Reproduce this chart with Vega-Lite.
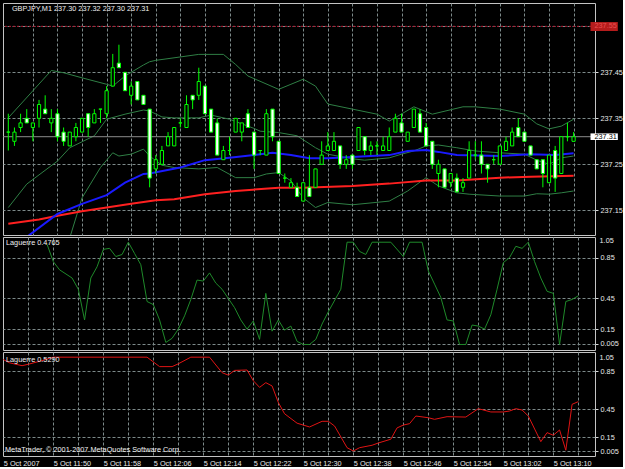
{
  "$schema": "https://vega.github.io/schema/vega-lite/v6.json",
  "background": "#000000",
  "padding": {"left": 2, "top": 2, "right": 0, "bottom": 0},
  "spacing": 2,
  "bounds": "flush",
  "config": {
    "view": {"stroke": "#c4c4c4", "strokeWidth": 1},
    "font": "Liberation Sans",
    "axis": {"labelFont": "Liberation Sans", "labelFontSize": 7.3, "labelColor": "#e8e8e8", "domain": false, "title": null, "gridColor": "#7d8a8a", "gridDash": [3, 2], "gridWidth": 1, "labelOverlap": false, "labelBound": false, "labelFlush": false, "tickCount": 100},
    "text": {"font": "Liberation Sans", "fontSize": 7.3, "color": "#e8e8e8", "align": "left", "baseline": "middle"}
  },
  "datasets": {
    "one": [{}],
    "candles": [
      {"t":0,"o":237.32,"h":237.36,"l":237.28,"c":237.32},
      {"t":1,"o":237.30,"h":237.33,"l":237.29,"c":237.32},
      {"t":2,"o":237.33,"h":237.36,"l":237.32,"c":237.34},
      {"t":3,"o":237.35,"h":237.37,"l":237.34,"c":237.34},
      {"t":4,"o":237.33,"h":237.34,"l":237.30,"c":237.34},
      {"t":5,"o":237.35,"h":237.39,"l":237.33,"c":237.38},
      {"t":6,"o":237.37,"h":237.40,"l":237.36,"c":237.36},
      {"t":7,"o":237.34,"h":237.37,"l":237.32,"c":237.35},
      {"t":8,"o":237.36,"h":237.37,"l":237.30,"c":237.31},
      {"t":9,"o":237.32,"h":237.33,"l":237.29,"c":237.30},
      {"t":10,"o":237.29,"h":237.32,"l":237.29,"c":237.32},
      {"t":11,"o":237.31,"h":237.34,"l":237.30,"c":237.33},
      {"t":12,"o":237.32,"h":237.35,"l":237.32,"c":237.35},
      {"t":13,"o":237.36,"h":237.36,"l":237.31,"c":237.33},
      {"t":14,"o":237.34,"h":237.37,"l":237.34,"c":237.36},
      {"t":15,"o":237.37,"h":237.37,"l":237.34,"c":237.37},
      {"t":16,"o":237.36,"h":237.42,"l":237.35,"c":237.41},
      {"t":17,"o":237.42,"h":237.49,"l":237.42,"c":237.46},
      {"t":18,"o":237.47,"h":237.51,"l":237.46,"c":237.46},
      {"t":19,"o":237.45,"h":237.45,"l":237.41,"c":237.41},
      {"t":20,"o":237.40,"h":237.43,"l":237.38,"c":237.42},
      {"t":21,"o":237.43,"h":237.43,"l":237.39,"c":237.39},
      {"t":22,"o":237.40,"h":237.40,"l":237.38,"c":237.38},
      {"t":23,"o":237.37,"h":237.37,"l":237.20,"c":237.22},
      {"t":24,"o":237.24,"h":237.27,"l":237.23,"c":237.26},
      {"t":25,"o":237.25,"h":237.29,"l":237.25,"c":237.28},
      {"t":26,"o":237.29,"h":237.32,"l":237.29,"c":237.31},
      {"t":27,"o":237.29,"h":237.33,"l":237.29,"c":237.33},
      {"t":28,"o":237.34,"h":237.35,"l":237.33,"c":237.34},
      {"t":29,"o":237.33,"h":237.40,"l":237.33,"c":237.38},
      {"t":30,"o":237.40,"h":237.40,"l":237.37,"c":237.39},
      {"t":31,"o":237.40,"h":237.46,"l":237.39,"c":237.43},
      {"t":32,"o":237.42,"h":237.42,"l":237.36,"c":237.36},
      {"t":33,"o":237.37,"h":237.37,"l":237.32,"c":237.32},
      {"t":34,"o":237.34,"h":237.35,"l":237.27,"c":237.27},
      {"t":35,"o":237.26,"h":237.29,"l":237.26,"c":237.28},
      {"t":36,"o":237.28,"h":237.31,"l":237.27,"c":237.28},
      {"t":37,"o":237.32,"h":237.35,"l":237.32,"c":237.35},
      {"t":38,"o":237.32,"h":237.34,"l":237.30,"c":237.34},
      {"t":39,"o":237.36,"h":237.37,"l":237.33,"c":237.33},
      {"t":40,"o":237.32,"h":237.32,"l":237.24,"c":237.27},
      {"t":41,"o":237.28,"h":237.28,"l":237.27,"c":237.28},
      {"t":42,"o":237.27,"h":237.37,"l":237.27,"c":237.36},
      {"t":43,"o":237.37,"h":237.37,"l":237.30,"c":237.31},
      {"t":44,"o":237.30,"h":237.30,"l":237.23,"c":237.23},
      {"t":45,"o":237.22,"h":237.23,"l":237.21,"c":237.22},
      {"t":46,"o":237.20,"h":237.22,"l":237.20,"c":237.21},
      {"t":47,"o":237.20,"h":237.21,"l":237.18,"c":237.18},
      {"t":48,"o":237.17,"h":237.21,"l":237.17,"c":237.21},
      {"t":49,"o":237.20,"h":237.27,"l":237.18,"c":237.18},
      {"t":50,"o":237.20,"h":237.24,"l":237.20,"c":237.24},
      {"t":51,"o":237.25,"h":237.30,"l":237.25,"c":237.27},
      {"t":52,"o":237.28,"h":237.32,"l":237.28,"c":237.29},
      {"t":53,"o":237.28,"h":237.32,"l":237.28,"c":237.30},
      {"t":54,"o":237.29,"h":237.29,"l":237.24,"c":237.25},
      {"t":55,"o":237.25,"h":237.27,"l":237.24,"c":237.26},
      {"t":56,"o":237.27,"h":237.27,"l":237.24,"c":237.25},
      {"t":57,"o":237.28,"h":237.33,"l":237.28,"c":237.33},
      {"t":58,"o":237.31,"h":237.31,"l":237.27,"c":237.28},
      {"t":59,"o":237.28,"h":237.30,"l":237.27,"c":237.29},
      {"t":60,"o":237.29,"h":237.30,"l":237.27,"c":237.29},
      {"t":61,"o":237.28,"h":237.31,"l":237.28,"c":237.29},
      {"t":62,"o":237.28,"h":237.33,"l":237.28,"c":237.31},
      {"t":63,"o":237.32,"h":237.36,"l":237.32,"c":237.35},
      {"t":64,"o":237.34,"h":237.36,"l":237.32,"c":237.32},
      {"t":65,"o":237.30,"h":237.32,"l":237.30,"c":237.32},
      {"t":66,"o":237.33,"h":237.37,"l":237.33,"c":237.37},
      {"t":67,"o":237.36,"h":237.37,"l":237.32,"c":237.32},
      {"t":68,"o":237.33,"h":237.34,"l":237.29,"c":237.29},
      {"t":69,"o":237.30,"h":237.30,"l":237.24,"c":237.25},
      {"t":70,"o":237.23,"h":237.26,"l":237.20,"c":237.25},
      {"t":71,"o":237.24,"h":237.24,"l":237.20,"c":237.20},
      {"t":72,"o":237.21,"h":237.23,"l":237.20,"c":237.23},
      {"t":73,"o":237.22,"h":237.23,"l":237.19,"c":237.19},
      {"t":74,"o":237.20,"h":237.22,"l":237.19,"c":237.21},
      {"t":75,"o":237.22,"h":237.30,"l":237.22,"c":237.28},
      {"t":76,"o":237.27,"h":237.30,"l":237.26,"c":237.27},
      {"t":77,"o":237.27,"h":237.30,"l":237.23,"c":237.25},
      {"t":78,"o":237.25,"h":237.25,"l":237.21,"c":237.24},
      {"t":79,"o":237.26,"h":237.27,"l":237.25,"c":237.26},
      {"t":80,"o":237.25,"h":237.29,"l":237.25,"c":237.29},
      {"t":81,"o":237.28,"h":237.31,"l":237.28,"c":237.30},
      {"t":82,"o":237.29,"h":237.33,"l":237.29,"c":237.32},
      {"t":83,"o":237.33,"h":237.35,"l":237.31,"c":237.31},
      {"t":84,"o":237.32,"h":237.32,"l":237.30,"c":237.30},
      {"t":85,"o":237.29,"h":237.29,"l":237.27,"c":237.27},
      {"t":86,"o":237.26,"h":237.26,"l":237.24,"c":237.24},
      {"t":87,"o":237.26,"h":237.26,"l":237.20,"c":237.23},
      {"t":88,"o":237.21,"h":237.27,"l":237.21,"c":237.27},
      {"t":89,"o":237.28,"h":237.29,"l":237.19,"c":237.22},
      {"t":90,"o":237.23,"h":237.31,"l":237.23,"c":237.31},
      {"t":91,"o":237.31,"h":237.34,"l":237.30,"c":237.31},
      {"t":92,"o":237.30,"h":237.32,"l":237.30,"c":237.31}
    ],
    "bands": [
      {"s":"upper","t":0,"v":237.351},{"s":"upper","t":7,"v":237.454},{"s":"upper","t":9,"v":237.449},{"s":"upper","t":12,"v":237.438},{"s":"upper","t":16,"v":237.424},{"s":"upper","t":17,"v":237.42},{"s":"upper","t":19,"v":237.442},{"s":"upper","t":22,"v":237.466},{"s":"upper","t":23,"v":237.473},{"s":"upper","t":24,"v":237.476},{"s":"upper","t":31,"v":237.489},{"s":"upper","t":35,"v":237.489},{"s":"upper","t":37,"v":237.467},{"s":"upper","t":39,"v":237.442},{"s":"upper","t":44,"v":237.413},{"s":"upper","t":46,"v":237.424},{"s":"upper","t":48,"v":237.435},{"s":"upper","t":50,"v":237.42},{"s":"upper","t":52,"v":237.381},{"s":"upper","t":56,"v":237.37},{"s":"upper","t":60,"v":237.359},{"s":"upper","t":62,"v":237.344},{"s":"upper","t":66,"v":237.375},{"s":"upper","t":69,"v":237.359},{"s":"upper","t":74,"v":237.375},{"s":"upper","t":76,"v":237.375},{"s":"upper","t":80,"v":237.37},{"s":"upper","t":84,"v":237.359},{"s":"upper","t":86,"v":237.338},{"s":"upper","t":88,"v":237.327},{"s":"upper","t":90,"v":237.333},{"s":"upper","t":92,"v":237.348},
      {"s":"mid","t":0,"v":237.156},{"s":"mid","t":3,"v":237.207},{"s":"mid","t":8,"v":237.257},{"s":"mid","t":10,"v":237.286},{"s":"mid","t":14,"v":237.312},{"s":"mid","t":16,"v":237.348},{"s":"mid","t":19,"v":237.359},{"s":"mid","t":22,"v":237.368},{"s":"mid","t":23,"v":237.366},{"s":"mid","t":25,"v":237.353},{"s":"mid","t":27,"v":237.351},{"s":"mid","t":31,"v":237.351},{"s":"mid","t":33,"v":237.357},{"s":"mid","t":36,"v":237.348},{"s":"mid","t":40,"v":237.328},{"s":"mid","t":41,"v":237.322},{"s":"mid","t":44,"v":237.319},{"s":"mid","t":47,"v":237.312},{"s":"mid","t":50,"v":237.286},{"s":"mid","t":52,"v":237.272},{"s":"mid","t":56,"v":237.262},{"s":"mid","t":58,"v":237.259},{"s":"mid","t":62,"v":237.264},{"s":"mid","t":64,"v":237.272},{"s":"mid","t":66,"v":237.279},{"s":"mid","t":68,"v":237.29},{"s":"mid","t":70,"v":237.292},{"s":"mid","t":73,"v":237.286},{"s":"mid","t":76,"v":237.279},{"s":"mid","t":80,"v":237.275},{"s":"mid","t":84,"v":237.272},{"s":"mid","t":86,"v":237.259},{"s":"mid","t":88,"v":237.25},{"s":"mid","t":90,"v":237.264},{"s":"mid","t":92,"v":237.268},
      {"s":"lower","t":10,"v":237.09},{"s":"lower","t":12,"v":237.177},{"s":"lower","t":15,"v":237.243},{"s":"lower","t":17,"v":237.275},{"s":"lower","t":18,"v":237.268},{"s":"lower","t":20,"v":237.272},{"s":"lower","t":22,"v":237.283},{"s":"lower","t":23,"v":237.268},{"s":"lower","t":25,"v":237.248},{"s":"lower","t":27,"v":237.243},{"s":"lower","t":31,"v":237.24},{"s":"lower","t":34,"v":237.243},{"s":"lower","t":37,"v":237.221},{"s":"lower","t":40,"v":237.221},{"s":"lower","t":42,"v":237.229},{"s":"lower","t":44,"v":237.232},{"s":"lower","t":46,"v":237.214},{"s":"lower","t":48,"v":237.177},{"s":"lower","t":50,"v":237.156},{"s":"lower","t":52,"v":237.167},{"s":"lower","t":56,"v":237.162},{"s":"lower","t":62,"v":237.17},{"s":"lower","t":65,"v":237.192},{"s":"lower","t":68,"v":237.221},{"s":"lower","t":70,"v":237.203},{"s":"lower","t":73,"v":237.188},{"s":"lower","t":75,"v":237.185},{"s":"lower","t":80,"v":237.181},{"s":"lower","t":84,"v":237.181},{"s":"lower","t":86,"v":237.186},{"s":"lower","t":88,"v":237.185},{"s":"lower","t":90,"v":237.188},{"s":"lower","t":92,"v":237.192}
    ],
    "mas": [
      {"s":"red","t":0,"v":237.121},{"s":"red","t":5,"v":237.13},{"s":"red","t":8,"v":237.138},{"s":"red","t":12,"v":237.148},{"s":"red","t":16,"v":237.156},{"s":"red","t":20,"v":237.164},{"s":"red","t":24,"v":237.172},{"s":"red","t":27,"v":237.174},{"s":"red","t":32,"v":237.185},{"s":"red","t":37,"v":237.192},{"s":"red","t":44,"v":237.199},{"s":"red","t":48,"v":237.199},{"s":"red","t":56,"v":237.203},{"s":"red","t":62,"v":237.208},{"s":"red","t":68,"v":237.215},{"s":"red","t":73,"v":237.215},{"s":"red","t":80,"v":237.221},{"s":"red","t":85,"v":237.223},{"s":"red","t":92,"v":237.225},
      {"s":"blue","t":3,"v":237.092},{"s":"blue","t":8,"v":237.142},{"s":"blue","t":12,"v":237.164},{"s":"blue","t":16,"v":237.183},{"s":"blue","t":19,"v":237.21},{"s":"blue","t":22,"v":237.229},{"s":"blue","t":23,"v":237.23},{"s":"blue","t":28,"v":237.243},{"s":"blue","t":32,"v":237.259},{"s":"blue","t":36,"v":237.264},{"s":"blue","t":40,"v":237.27},{"s":"blue","t":43,"v":237.275},{"s":"blue","t":46,"v":237.27},{"s":"blue","t":49,"v":237.263},{"s":"blue","t":52,"v":237.263},{"s":"blue","t":56,"v":237.266},{"s":"blue","t":62,"v":237.27},{"s":"blue","t":65,"v":237.279},{"s":"blue","t":68,"v":237.281},{"s":"blue","t":70,"v":237.277},{"s":"blue","t":73,"v":237.27},{"s":"blue","t":80,"v":237.268},{"s":"blue","t":85,"v":237.272},{"s":"blue","t":89,"v":237.27},{"s":"blue","t":92,"v":237.274}
    ],
    "lag1": [
      {"t":7,"v":0.98},{"t":8,"v":0.81},{"t":9,"v":0.73},{"t":11,"v":0.65},{"t":12,"v":0.54},{"t":13,"v":0.24},{"t":14,"v":0.65},{"t":15,"v":0.76},{"t":16,"v":0.93},{"t":17,"v":0.94},{"t":18,"v":0.86},{"t":19,"v":0.88},{"t":20,"v":1.0},{"t":21,"v":0.89},{"t":22,"v":0.78},{"t":23,"v":0.42},{"t":24,"v":0.39},{"t":25,"v":0.24},{"t":26,"v":0.02},{"t":27,"v":0.06},{"t":28,"v":0.15},{"t":29,"v":0.28},{"t":30,"v":0.44},{"t":31,"v":0.63},{"t":32,"v":0.62},{"t":33,"v":0.7},{"t":34,"v":0.6},{"t":35,"v":0.54},{"t":36,"v":0.45},{"t":37,"v":0.36},{"t":38,"v":0.24},{"t":39,"v":0.15},{"t":40,"v":0.23},{"t":41,"v":0.05},{"t":42,"v":0.5},{"t":43,"v":0.13},{"t":44,"v":0.24},{"t":45,"v":0.14},{"t":46,"v":0.18},{"t":47,"v":0.03},{"t":48,"v":0.0},{"t":49,"v":0.0},{"t":50,"v":0.05},{"t":51,"v":0.2},{"t":52,"v":0.32},{"t":54,"v":0.54},{"t":55,"v":1.0},{"t":56,"v":1.0},{"t":57,"v":0.91},{"t":58,"v":0.88},{"t":59,"v":1.0},{"t":62,"v":1.0},{"t":64,"v":0.86},{"t":65,"v":1.0},{"t":67,"v":1.0},{"t":68,"v":0.72},{"t":69,"v":0.59},{"t":70,"v":0.46},{"t":71,"v":0.24},{"t":72,"v":0.23},{"t":73,"v":0.0},{"t":74,"v":0.0},{"t":75,"v":0.19},{"t":76,"v":0.18},{"t":77,"v":0.15},{"t":78,"v":0.29},{"t":79,"v":0.54},{"t":80,"v":0.8},{"t":81,"v":0.85},{"t":82,"v":0.96},{"t":83,"v":0.94},{"t":84,"v":1.0},{"t":85,"v":0.81},{"t":86,"v":0.65},{"t":87,"v":0.52},{"t":88,"v":0.5},{"t":89,"v":0.0},{"t":90,"v":0.42},{"t":91,"v":0.44},{"t":92,"v":0.4765}
    ],
    "lag2": [
      {"t":0,"v":0.975},{"t":1,"v":0.94},{"t":3,"v":0.91},{"t":4,"v":0.925},{"t":6,"v":0.96},{"t":8,"v":1.0},{"t":23,"v":1.0},{"t":25,"v":0.9},{"t":27,"v":0.9},{"t":28,"v":0.93},{"t":30,"v":1.0},{"t":33,"v":1.0},{"t":35,"v":0.836},{"t":36,"v":0.81},{"t":37,"v":0.86},{"t":39,"v":0.864},{"t":40,"v":0.75},{"t":41,"v":0.68},{"t":42,"v":0.73},{"t":43,"v":0.695},{"t":44,"v":0.52},{"t":45,"v":0.4},{"t":47,"v":0.3},{"t":49,"v":0.26},{"t":51,"v":0.32},{"t":52,"v":0.32},{"t":53,"v":0.27},{"t":55,"v":0.04},{"t":56,"v":0.005},{"t":57,"v":0.04},{"t":59,"v":0.066},{"t":60,"v":0.09},{"t":62,"v":0.13},{"t":63,"v":0.25},{"t":64,"v":0.28},{"t":65,"v":0.295},{"t":66,"v":0.376},{"t":68,"v":0.358},{"t":69,"v":0.341},{"t":71,"v":0.369},{"t":74,"v":0.365},{"t":76,"v":0.454},{"t":78,"v":0.419},{"t":80,"v":0.419},{"t":81,"v":0.429},{"t":82,"v":0.454},{"t":83,"v":0.44},{"t":84,"v":0.376},{"t":86,"v":0.104},{"t":87,"v":0.2},{"t":88,"v":0.172},{"t":89,"v":0.228},{"t":90,"v":0.013},{"t":91,"v":0.5},{"t":92,"v":0.529}
    ]
  },
  "vconcat": [
    {
      "width": 592,
      "height": 232,
      "layer": [
        {
          "data": {"name": "bands"},
          "mark": {"type": "line", "color": "#2f7f45", "strokeWidth": 1, "clip": true},
          "encoding": {
            "x": {"field": "t", "type": "quantitative", "scale": {"domain": [-0.05, 94.67], "nice": false, "zero": false},
                  "axis": {"values": [4,8,12,16,20,24,28,32,36,40,44,48,52,56,60,64,68,72,76,80,84,88,92], "tickCount": 100, "labels": false, "ticks": false, "grid": true, "minExtent": 0, "maxExtent": 0}},
            "y": {"field": "v", "type": "quantitative", "scale": {"domain": [237.0963, 237.6007], "nice": false, "zero": false},
                  "axis": {"orient": "right", "values": [237.15, 237.25, 237.35, 237.45, 237.55], "tickCount": 100, "labelExpr": "datum.value > 237.5 ? '' : format(datum.value, '.2f')", "tickSize": 3, "tickColor": "#d8d8d8", "labelPadding": 2, "grid": true, "labelOverlap": false}},
            "detail": {"field": "s", "type": "nominal"}
          }
        },
        {
          "data": {"name": "mas"},
          "transform": [{"filter": "datum.s == 'red'"}],
          "mark": {"type": "line", "color": "#ff2020", "strokeWidth": 2, "clip": true},
          "encoding": {"x": {"field": "t", "type": "quantitative"}, "y": {"field": "v", "type": "quantitative"}}
        },
        {
          "data": {"name": "mas"},
          "transform": [{"filter": "datum.s == 'blue'"}],
          "mark": {"type": "line", "color": "#1a1aff", "strokeWidth": 2, "clip": true},
          "encoding": {"x": {"field": "t", "type": "quantitative"}, "y": {"field": "v", "type": "quantitative"}}
        },
        {
          "data": {"name": "one"},
          "mark": {"type": "rule", "color": "#8c8c8c", "strokeWidth": 1},
          "encoding": {"y": {"datum": 237.31}}
        },
        {
          "data": {"name": "one"},
          "mark": {"type": "rule", "color": "#b0102a", "strokeWidth": 1, "strokeDash": [2, 2]},
          "encoding": {"y": {"datum": 237.55}}
        },
        {
          "data": {"name": "candles"},
          "mark": {"type": "rule", "color": "#00ff00", "strokeWidth": 1, "clip": true},
          "encoding": {"x": {"field": "t", "type": "quantitative"}, "y": {"field": "l", "type": "quantitative"}, "y2": {"field": "h"}}
        },
        {
          "data": {"name": "candles"},
          "mark": {"type": "bar", "size": 3.2, "stroke": "#00ff00", "strokeWidth": 1, "clip": true},
          "encoding": {
            "x": {"field": "t", "type": "quantitative"},
            "y": {"field": "o", "type": "quantitative"},
            "y2": {"field": "c"},
            "fill": {"condition": {"test": "datum.c > datum.o", "value": "#000000"}, "value": "#ffffff"}
          }
        },
        {
          "data": {"name": "one"},
          "mark": {"type": "rect", "fill": "#b51c1c", "clip": false},
          "encoding": {"x": {"datum": 94.75}, "x2": {"datum": 99.2}, "y": {"datum": 237.5593}, "y2": {"datum": 237.5398}}
        },
        {
          "data": {"name": "one"},
          "mark": {"type": "text", "color": "#e85050", "clip": false},
          "encoding": {"x": {"datum": 95.4}, "y": {"datum": 237.5497}, "text": {"value": "237.55"}}
        },
        {
          "data": {"name": "one"},
          "mark": {"type": "rect", "fill": "#ffffff", "clip": false},
          "encoding": {"x": {"datum": 94.75}, "x2": {"datum": 99.2}, "y": {"datum": 237.3172}, "y2": {"datum": 237.3028}}
        },
        {
          "data": {"name": "one"},
          "mark": {"type": "text", "color": "#000000", "clip": false},
          "encoding": {"x": {"datum": 95.4}, "y": {"datum": 237.31}, "text": {"value": "237.31"}}
        },
        {
          "data": {"name": "one"},
          "mark": {"type": "text", "color": "#f0f0f0"},
          "encoding": {"x": {"datum": 0.59}, "y": {"datum": 237.5877}, "text": {"value": "GBPJPY,M1  237.30 237.32 237.30 237.31"}}
        }
      ]
    },
    {
      "width": 592,
      "height": 113,
      "layer": [
        {
          "data": {"name": "lag1"},
          "mark": {"type": "line", "color": "#1f8a2a", "strokeWidth": 1, "clip": true},
          "encoding": {
            "x": {"field": "t", "type": "quantitative", "scale": {"domain": [-0.05, 94.67], "nice": false, "zero": false},
                  "axis": {"values": [4,8,12,16,20,24,28,32,36,40,44,48,52,56,60,64,68,72,76,80,84,88,92], "tickCount": 100, "labels": false, "ticks": false, "grid": true, "minExtent": 0, "maxExtent": 0}},
            "y": {"field": "v", "type": "quantitative", "scale": {"domain": [-0.054, 1.051], "nice": false, "zero": false},
                  "axis": {"orient": "right", "values": [0.85, 0.45, 0.15, 0.005], "tickCount": 100, "labelExpr": "datum.value == 0.005 ? '0.005' : format(datum.value, '.2f')", "tickSize": 3, "tickColor": "#d8d8d8", "labelPadding": 2, "grid": true, "labelOverlap": false}}
          }
        },
        {
          "data": {"name": "one"},
          "mark": {"type": "text", "clip": false},
          "encoding": {"x": {"datum": 95.4}, "y": {"datum": 1.012}, "text": {"value": "1.05"}}
        },
        {
          "data": {"name": "one"},
          "mark": {"type": "text", "color": "#f0f0f0"},
          "encoding": {"x": {"datum": 0.43}, "y": {"datum": 0.997}, "text": {"value": "Laguerre 0.4765"}}
        }
      ]
    },
    {
      "width": 592,
      "height": 104,
      "layer": [
        {
          "data": {"name": "lag2"},
          "mark": {"type": "line", "color": "#e01414", "strokeWidth": 1, "clip": true},
          "encoding": {
            "x": {"field": "t", "type": "quantitative", "scale": {"domain": [-0.05, 94.67], "nice": false, "zero": false},
                  "axis": {"values": [0,4,8,12,16,20,24,28,32,36,40,44,48,52,56,60,64,68,72,76,80,84,88,92], "tickCount": 100, "ticks": false, "tickSize": 0, "grid": true, "labelAlign": "left", "labelBaseline": "top", "labelPadding": 3, "labelOverlap": false,
                           "gridOpacity": {"condition": {"test": "datum.value == 0", "value": 0}, "value": 1},
                           "labelExpr": "datum.value % 8 != 0 ? '' : (datum.value == 0 ? '5 Oct 2007' : '5 Oct ' + floor((702 + datum.value) / 60) + ':' + ((702 + datum.value) % 60 < 10 ? '0' : '') + ((702 + datum.value) % 60))"}},
            "y": {"field": "v", "type": "quantitative", "scale": {"domain": [-0.048, 1.055], "nice": false, "zero": false},
                  "axis": {"orient": "right", "values": [0.85, 0.45, 0.15, 0.005], "tickCount": 100, "labelExpr": "datum.value == 0.005 ? '0.005' : format(datum.value, '.2f')", "tickSize": 3, "tickColor": "#d8d8d8", "labelPadding": 2, "grid": true, "labelOverlap": false}}
          }
        },
        {
          "data": {"name": "one"},
          "mark": {"type": "text", "clip": false},
          "encoding": {"x": {"datum": 95.4}, "y": {"datum": 0.991}, "text": {"value": "1.05"}}
        },
        {
          "data": {"name": "one"},
          "mark": {"type": "text", "color": "#f0f0f0"},
          "encoding": {"x": {"datum": 0.43}, "y": {"datum": 0.97}, "text": {"value": "Laguerre 0.5290"}}
        },
        {
          "data": {"name": "one"},
          "mark": {"type": "text", "color": "#f0f0f0"},
          "encoding": {"x": {"datum": 0.27}, "y": {"datum": 0.016}, "text": {"value": "MetaTrader, © 2001-2007 MetaQuotes Software Corp."}}
        }
      ]
    }
  ]
}
